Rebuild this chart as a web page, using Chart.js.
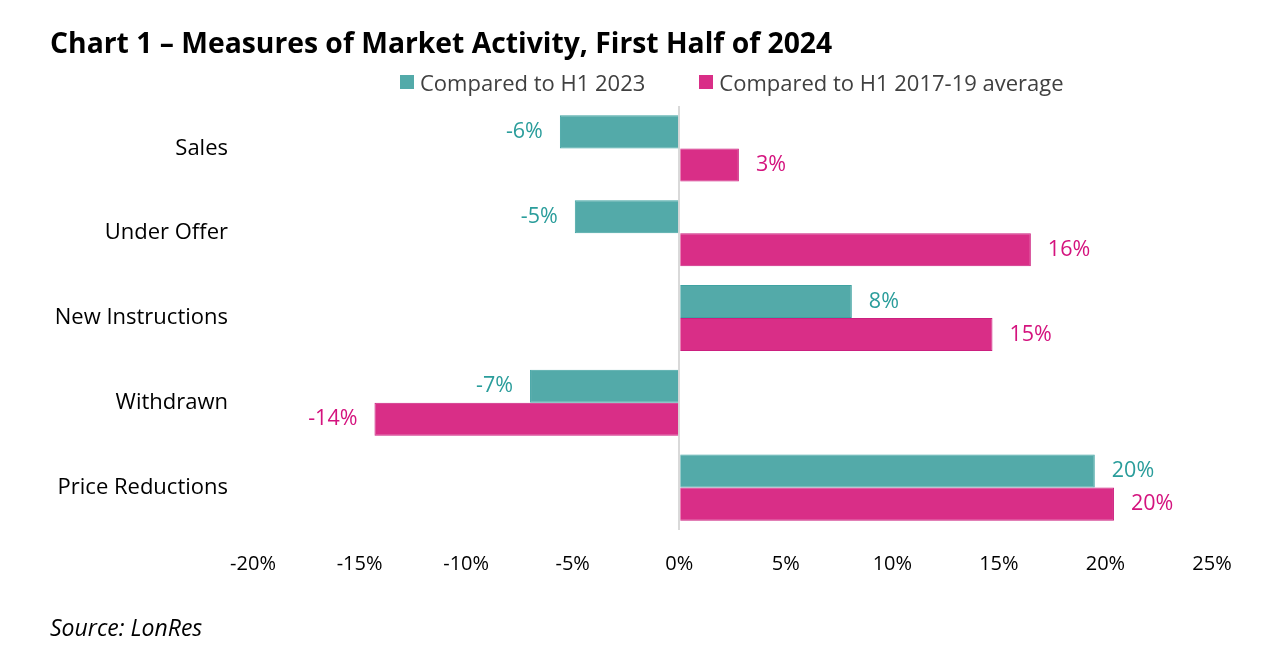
<!DOCTYPE html>
<html>
<head>
<meta charset="utf-8">
<script src="https://cdn.jsdelivr.net/npm/chart.js@4.4.1/dist/chart.umd.min.js"></script>
<style>
  body { margin: 0; background: #fff; font-family: 'Open Sans', sans-serif; }
  #wrap { position: relative; width: 1280px; height: 671px; }
  #title { position: absolute; left: 50px; top: 23px; font-size: 28.3px; font-weight: bold; color: #000; white-space: nowrap; }
  #source { position: absolute; left: 50px; top: 611px; font-size: 23px; font-style: italic; color: #000; }
  #legend { position: absolute; left: 400px; top: 67px; display: flex; font-size: 22px; color: #404040; white-space: nowrap; }
  #legend .item { display: flex; align-items: center; margin-right: 54px; }
  #legend .box { width: 14px; height: 14px; margin-right: 6px; }
  canvas { position: absolute; left: 0; top: 0; }
</style>
</head>
<body>
<div id="wrap">
  <canvas id="c" width="1280" height="671"></canvas>
  <div id="title">Chart 1 – Measures of Market Activity, First Half of 2024</div>
  <div id="legend"></div>
  <div id="source">Source: LonRes</div>
</div>
<script>
// values (percent)
const categories = ['Sales', 'Under Offer', 'New Instructions', 'Withdrawn', 'Price Reductions']
const vsH1_2023 = [-5.6, -4.9, 8.1, -7.0, 19.5]
const vsAvg2017_19 = [2.8, 16.5, 14.7, -14.3, 20.4]
const labels2023 = ['-6%', '-5%', '8%', '-7%', '20%']
const labelsAvg = ['3%', '16%', '15%', '-14%', '20%']
const seriesNames = ['Compared to H1 2023', 'Compared to H1 2017-19 average']

const teal = '#53aaa9'
const tealText = '#2a9d9b'
const pink = '#d92e87'
const pinkText = '#d4137e'
const font = "'Open Sans', sans-serif"

// draws the value labels next to the bar ends
const valueLabels = {
    id: 'valueLabels',
    afterDatasetsDraw(chart) {
        const ctx = chart.ctx
        const texts = [labels2023, labelsAvg]
        const colors = [tealText, pinkText]
        ctx.save()
        ctx.font = '21.5px ' + font
        ctx.textBaseline = 'middle'
        chart.data.datasets.forEach(function(ds, di) {
            chart.getDatasetMeta(di).data.forEach(function(bar, i) {
                const neg = ds.data[i] < 0
                ctx.fillStyle = colors[di]
                ctx.textAlign = neg ? 'right' : 'left'
                ctx.fillText(texts[di][i], bar.x + (neg ? -17 : 17), bar.y)
            })
        })
        ctx.restore()
    }
}

const chart = new Chart(document.getElementById('c'), {
    type: 'bar',
    data: {
        labels: categories,
        datasets: [{
            label: seriesNames[0],
            data: vsH1_2023,
            backgroundColor: teal,
            borderColor: '#3fa3a2',
            borderWidth: 1
        },
        {
            label: seriesNames[1],
            data: vsAvg2017_19,
            backgroundColor: pink,
            borderColor: '#cc1f7f',
            borderWidth: 1
        }]
    },
    options: {
        indexAxis: 'y',
        responsive: false,
        animation: false,
        categoryPercentage: 0.78,
        barPercentage: 1,
        layout: { padding: { top: 106, right: 68, bottom: 73, left: 0 } },
        plugins: {
            tooltip: { enabled: false },
            legend: { display: false }
        },
        scales: {
            x: {
                min: -20,
                max: 25,
                ticks: {
                    stepSize: 5,
                    padding: 22,
                    color: '#000',
                    font: { family: font, size: 20 },
                    callback: v => v + '%'
                },
                grid: {
                    drawTicks: false,
                    lineWidth: 2,
                    color: ctx => ctx.tick && ctx.tick.value === 0 ? '#d9d9d9' : 'rgba(0,0,0,0)'
                },
                border: { display: false }
            },
            y: {
                afterFit(scale) { scale.width = 253 },
                ticks: {
                    padding: 25,
                    color: '#000',
                    font: { family: font, size: 22 }
                },
                grid: { display: false, drawTicks: false },
                border: { display: false }
            }
        }
    },
    plugins: [valueLabels]
})

// legend built from the chart's datasets
const legend = document.getElementById('legend')
chart.data.datasets.forEach(function(ds) {
    const item = document.createElement('div')
    item.className = 'item'
    const box = document.createElement('span')
    box.className = 'box'
    box.style.background = ds.backgroundColor
    item.appendChild(box)
    item.appendChild(document.createTextNode(ds.label))
    legend.appendChild(item)
})
</script>
</body>
</html>
